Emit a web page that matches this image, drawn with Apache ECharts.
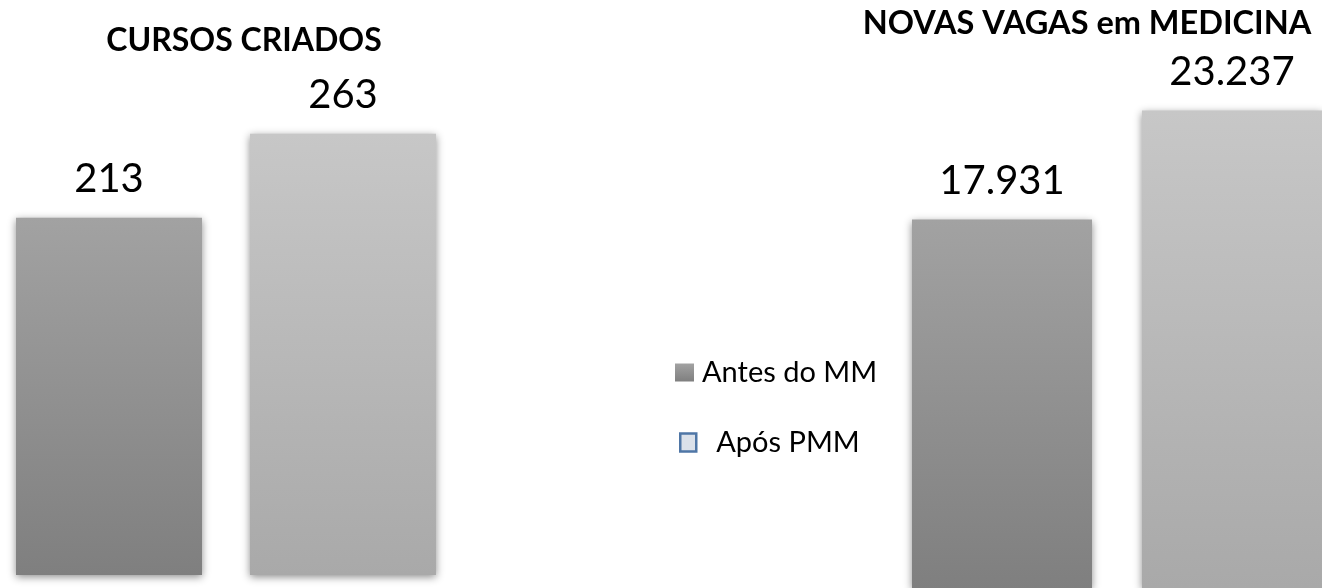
<!DOCTYPE html>
<html>
<head>
<meta charset="utf-8">
<script src="https://cdn.jsdelivr.net/npm/echarts@6/dist/echarts.min.js"></script>
<style>
  html, body { margin: 0; padding: 0; background: #fff; }
  #chart { width: 1322px; height: 588px; }
</style>
</head>
<body>
<div id="chart"></div>
<script>
// painel / séries
const panelTitles = ['CURSOS CRIADOS', 'NOVAS VAGAS em MEDICINA']
const seriesNames = ['Antes do MM', 'Após PMM']
const antes = [213, 17931]
const apos = [263, 23237]

const fontFamily = 'Lato, "Open Sans", sans-serif'

function fmt(v) {
  return String(v).replace(/\B(?=(\d{3})+(?!\d))/g, '.')
}

function grad(top, bottom) {
  return new echarts.graphic.LinearGradient(0, 0, 0, 1, [
    { offset: 0, color: top },
    { offset: 1, color: bottom }
  ])
}

const barColors = [grad('#a2a2a2', '#7f7f7f'), grad('#c7c7c7', '#a9a9a9')]
const barWidths = [186, 190]
const barGaps = ['25.8%', '26.3%']

const label = {
  show: true,
  position: 'top',
  distance: 19,
  color: '#000',
  fontFamily: fontFamily,
  fontSize: 40,
  lineHeight: 40,
  formatter: p => fmt(p.value)
}

const itemBase = {
  shadowBlur: 8,
  shadowColor: 'rgba(0,0,0,0.45)',
  shadowOffsetY: 2
}

const series = []
;[antes, apos].forEach((vals, s) => {
  vals.forEach((v, panel) => {
    series.push({
      name: seriesNames[s],
      type: 'bar',
      xAxisIndex: panel,
      yAxisIndex: panel,
      data: [v],
      barWidth: barWidths[panel],
      barGap: barGaps[panel],
      itemStyle: Object.assign({ color: barColors[s] }, itemBase),
      label: label,
      emphasis: { disabled: true }
    })
  })
})

const chart = echarts.init(document.getElementById('chart'))

chart.setOption({
  animation: false,
  title: [
    {
      text: panelTitles[0], left: 244, top: 25, textAlign: 'center', padding: 0,
      textStyle: { fontFamily: fontFamily, fontSize: 32, fontWeight: 'bold', color: '#000', lineHeight: 32 }
    },
    {
      text: panelTitles[1], left: 1087, top: 8, textAlign: 'center', padding: 0,
      textStyle: { fontFamily: fontFamily, fontSize: 32.5, fontWeight: 'bold', color: '#000', lineHeight: 32 }
    }
  ],
  legend: [
    {
      left: 675, top: 358, padding: 0, selectedMode: false,
      itemWidth: 19, itemHeight: 18,
      textStyle: { fontFamily: fontFamily, fontSize: 29, lineHeight: 28, color: '#000', padding: [0, 0, 0, 3] },
      data: [{ name: seriesNames[0], icon: 'rect', itemStyle: { color: grad('#a2a2a2', '#7f7f7f') } }]
    },
    {
      left: 679, top: 428, padding: 0, selectedMode: false,
      itemWidth: 16, itemHeight: 18,
      textStyle: { fontFamily: fontFamily, fontSize: 29, lineHeight: 28, color: '#000', padding: [0, 0, 0, 15] },
      data: [{ name: seriesNames[1], icon: 'rect', itemStyle: { color: '#dbe1ea', borderColor: '#4f76a6', borderWidth: 2.5 } }]
    }
  ],
  grid: [
    { left: 0, width: 452, top: 60, bottom: 13 },
    { left: 912, right: 0, top: 60, bottom: 0 }
  ],
  xAxis: [
    { type: 'category', gridIndex: 0, data: [panelTitles[0]], show: false },
    { type: 'category', gridIndex: 1, data: [panelTitles[1]], show: false }
  ],
  yAxis: [
    { type: 'value', gridIndex: 0, min: 0, max: 307, show: false, splitLine: { show: false } },
    { type: 'value', gridIndex: 1, min: 0, max: 25700, show: false, splitLine: { show: false } }
  ],
  series: series
})
</script>
</body>
</html>
